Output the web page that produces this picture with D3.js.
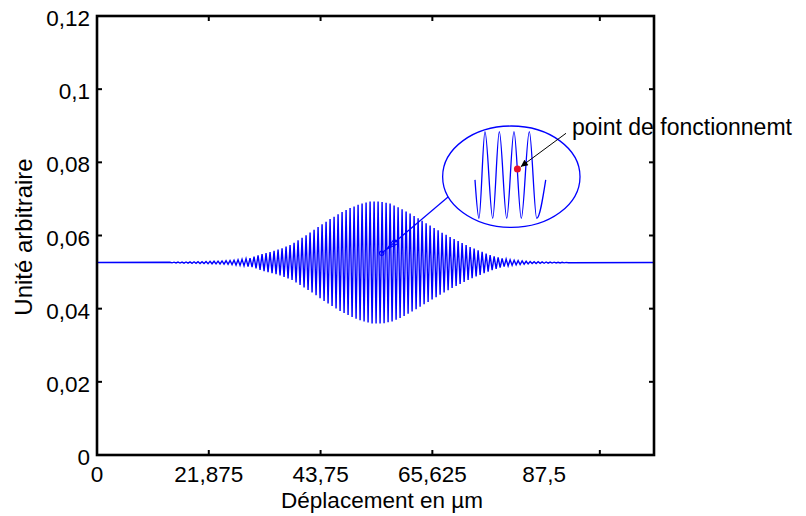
<!DOCTYPE html>
<html><head><meta charset="utf-8">
<script src="https://cdn.jsdelivr.net/npm/d3@7"></script>
<style>body{margin:0;background:#fff} text{font-family:"Liberation Sans",Arial,Helvetica,sans-serif;fill:#000}</style>
</head><body><svg id="c" width="806" height="516"></svg>
<script>
// ---- data ----
const xTickValues = [0, 21.875, 43.75, 65.625, 87.5];
const xTickLabels = ["0", "21,875", "43,75", "65,625", "87,5"];
const xTickMarks = [21.875, 43.75, 65.625, 98.4];
const yTickValues = [0, 0.02, 0.04, 0.06, 0.08, 0.1, 0.12];
const yTickLabels = ["0", "0,02", "0,04", "0,06", "0,08", "0,1", "0,12"];
const baseline = 0.0526;
const fringeStart = 14.29;
const fringePeriod = 0.783;
const fringePeaks = [
0.05268,0.0527,0.05273,0.05275,0.05277,0.05279,0.05281,0.05284,0.05286,0.0529,
0.05293,0.05296,0.05299,0.05304,0.05309,0.05315,0.05326,0.05337,0.0535,0.05367,
0.05383,0.05421,0.0546,0.05492,0.0552,0.05547,0.0558,0.05613,0.05651,0.05695,
0.05738,0.05804,0.05869,0.05938,0.06009,0.0608,0.06156,0.06233,0.06307,0.06378,
0.06449,0.06514,0.0658,0.0664,0.06695,0.06749,0.06793,0.06837,0.06872,0.069,
0.06927,0.06927,0.06927,0.06916,0.06894,0.06872,0.06823,0.06774,0.06719,0.06659,
0.06599,0.06534,0.06468,0.06402,0.06337,0.06271,0.06206,0.0614,0.06077,0.06017,
0.05957,0.05902,0.05848,0.05793,0.05738,0.05684,0.0564,0.05596,0.05552,0.05509,
0.05465,0.05432,0.05399,0.05372,0.05353,0.05334,0.05323,0.05312,0.05304,0.05296,
0.05287,0.05285,0.05282,0.05278,0.05276,0.05274,0.05271,0.05269,0.05268,0.05265];
const fringeTroughs = [
0.05252,0.0525,0.05247,0.05245,0.05243,0.05241,0.05239,0.05236,0.05234,0.0523,
0.05227,0.05224,0.05221,0.05216,0.05211,0.05205,0.05194,0.05183,0.0517,0.05153,
0.05137,0.05099,0.0506,0.05028,0.05,0.04973,0.0494,0.04907,0.04869,0.04825,
0.04782,0.04716,0.04651,0.04582,0.04511,0.0444,0.04364,0.04287,0.04213,0.04142,
0.04071,0.04006,0.0394,0.0388,0.03825,0.03771,0.03727,0.03683,0.03648,0.0362,
0.03593,0.03593,0.03593,0.03604,0.03626,0.03648,0.03697,0.03746,0.03801,0.03861,
0.03921,0.03986,0.04052,0.04118,0.04183,0.04249,0.04314,0.0438,0.04443,0.04503,
0.04563,0.04618,0.04672,0.04727,0.04782,0.04836,0.0488,0.04924,0.04968,0.05011,
0.05055,0.05088,0.05121,0.05148,0.05167,0.05186,0.05197,0.05208,0.05216,0.05224,
0.05233,0.05235,0.05238,0.05242,0.05244,0.05246,0.05249,0.05251,0.05252,0.05255];
// zoomed inset wave (extrema, in main-axis units)
const insetX = [73.97, 74.75, 75.92, 77.44, 78.73, 80.18, 81.6, 83.03, 84.6, 86.05, 87.81];
const insetY = [0.0752, 0.0647, 0.0884, 0.0647, 0.0884, 0.0647, 0.0884, 0.0647, 0.0884, 0.0647, 0.0752];
const annotationText = "point de fonctionnemt";

// ---- layout ----
const svg = d3.select("#c");
const x = d3.scaleLinear().domain([0, 109]).range([97, 654]);
const y = d3.scaleLinear().domain([0, 0.12]).range([455, 16]);

// signal
const pts = [{x: 0, y: baseline}];
fringePeaks.forEach((p, k) => {
  pts.push({x: fringeStart + k * fringePeriod, y: p});
  pts.push({x: fringeStart + (k + 0.5) * fringePeriod, y: fringeTroughs[k]});
});
pts.push({x: 109, y: baseline});
svg.append("path").datum(pts)
  .attr("fill", "none").attr("stroke", "#0000ff").attr("stroke-width", 1.4)
  .attr("d", d3.line().x(d => x(d.x)).y(d => y(d.y)));

// frame
const g = svg.append("g");
g.append("rect").attr("x", x(0)).attr("y", y(0.12)).attr("width", x(109) - x(0)).attr("height", y(0) - y(0.12))
  .attr("fill", "none").attr("stroke", "#000").attr("stroke-width", 2.6);
xTickMarks.forEach(v => {
  g.append("line").attr("x1", x(v)).attr("x2", x(v)).attr("y1", y(0)).attr("y2", y(0) - 5).attr("stroke", "#000").attr("stroke-width", 2);
  g.append("line").attr("x1", x(v)).attr("x2", x(v)).attr("y1", y(0.12)).attr("y2", y(0.12) + 5).attr("stroke", "#000").attr("stroke-width", 2);
});
yTickValues.forEach(v => {
  g.append("line").attr("x1", x(0)).attr("x2", x(0) + 5).attr("y1", y(v)).attr("y2", y(v)).attr("stroke", "#000").attr("stroke-width", 2);
  g.append("line").attr("x1", x(109)).attr("x2", x(109) - 5).attr("y1", y(v)).attr("y2", y(v)).attr("stroke", "#000").attr("stroke-width", 2);
});
xTickValues.forEach((v, i) => {
  g.append("text").attr("x", x(v)).attr("y", 482).attr("text-anchor", "middle")
    .attr("font-size", 22.5).text(xTickLabels[i]);
});
yTickValues.forEach((v, i) => {
  g.append("text").attr("x", 90).attr("y", y(v) + 10).attr("text-anchor", "end")
    .attr("font-size", 22.5).text(yTickLabels[i]);
});
svg.append("text").attr("x", 382).attr("y", 508).attr("text-anchor", "middle")
  .attr("font-size", 22.5).text("Déplacement en µm");
svg.append("text").attr("transform", "translate(32,237) rotate(-90)").attr("text-anchor", "middle")
  .attr("font-size", 24).text("Unité arbitraire");

// annotation: marker + connector + ellipse + zoomed wave
const mk = {x: 55.71, y: 0.05514}, ce = {x: 68.75, y: 0.07061};
svg.append("line").attr("x1", x(mk.x)).attr("y1", y(mk.y)).attr("x2", x(ce.x)).attr("y2", y(ce.y))
  .attr("stroke", "#0000ff").attr("stroke-width", 1.2);
svg.append("circle").attr("cx", x(mk.x)).attr("cy", y(mk.y)).attr("r", 2.2)
  .attr("fill", "none").attr("stroke", "#0000ff").attr("stroke-width", 1.2);
const ah2 = [{x: 56.75, y: 0.05631}, {x: 58.9, y: 0.05781}, {x: 58.16, y: 0.05907}, {x: 56.75, y: 0.05631}];
svg.append("path").datum(ah2).attr("fill", "none").attr("stroke", "#0000ff").attr("stroke-width", 1.1)
  .attr("d", d3.line().x(d => x(d.x)).y(d => y(d.y)));
const ell = {x: 81.08, y: 0.07607, rx: 13.44, ry: 0.01386};
svg.append("ellipse").attr("cx", x(ell.x)).attr("cy", y(ell.y))
  .attr("rx", x(ell.rx) - x(0)).attr("ry", y(0) - y(ell.ry))
  .attr("fill", "none").attr("stroke", "#0000ff").attr("stroke-width", 1.3);
svg.append("path").datum(insetX.map((v, i) => ({x: v, y: insetY[i]})))
  .attr("fill", "none").attr("stroke", "#0000ff").attr("stroke-width", 1.3)
  .attr("d", d3.line().x(d => x(d.x)).y(d => y(d.y)).curve(d3.curveMonotoneX));
const op = {x: 82.27, y: 0.07818}, arrowFrom = {x: 91.78, y: 0.08794}, arrowTo = {x: 82.94, y: 0.07881};
svg.append("circle").attr("cx", x(op.x)).attr("cy", y(op.y)).attr("r", 3.5).attr("fill", "#e8102a");
svg.append("defs").append("marker").attr("id", "ah").attr("viewBox", "0 0 10 10").attr("refX", 10).attr("refY", 5)
  .attr("markerWidth", 9).attr("markerHeight", 7).attr("markerUnits", "userSpaceOnUse").attr("orient", "auto")
  .append("path").attr("d", "M0,0L10,5L0,10Z").attr("fill", "#000");
svg.append("line").attr("x1", x(arrowFrom.x)).attr("y1", y(arrowFrom.y)).attr("x2", x(arrowTo.x)).attr("y2", y(arrowTo.y))
  .attr("stroke", "#000").attr("stroke-width", 1).attr("marker-end", "url(#ah)");
svg.append("text").attr("x", x(92.96)).attr("y", y(0.0874)).attr("font-size", 23).text(annotationText);
</script></body></html>
